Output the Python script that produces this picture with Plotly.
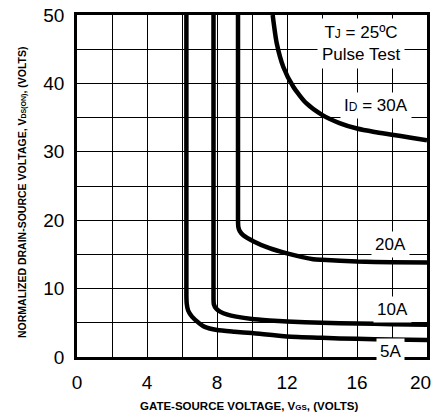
import plotly.graph_objects as go

# ---- data ----
x_5a = [6.25, 6.25, 6.27, 6.35, 6.57, 7.0, 7.3, 8.0, 9.0, 10.0, 12.0, 14.0, 16.0, 18.0, 20.0]
y_5a = [50.0, 9.0, 7.8, 6.8, 5.9, 4.9, 4.4, 3.95, 3.7, 3.5, 3.0, 2.8, 2.65, 2.55, 2.5]

x_10a = [7.8, 7.8, 7.82, 7.95, 8.2, 8.6, 9.1, 10.0, 11.0, 12.0, 14.0, 16.0, 18.0, 20.0]
y_10a = [50.0, 8.6, 7.7, 7.1, 6.6, 6.2, 5.9, 5.55, 5.35, 5.2, 5.0, 4.9, 4.8, 4.7]

x_20a = [9.2, 9.2, 9.22, 9.3, 9.5, 10.1, 11.0, 12.0, 13.5, 14.0, 16.0, 18.0, 20.0]
y_20a = [50.0, 20.0, 19.0, 18.4, 17.8, 16.9, 15.9, 15.15, 14.3, 14.2, 13.95, 13.85, 13.8]

x_30a = [11.18, 11.41, 11.79, 12.36, 13.1, 14.0, 15.0, 16.0, 17.0, 18.0, 19.0, 20.0]
y_30a = [50.0, 45.9, 42.4, 39.5, 37.1, 35.4, 34.2, 33.4, 32.9, 32.5, 32.1, 31.7]

x_grid = [0, 2, 4, 6, 8, 10, 12, 14, 16, 18, 20]
x_ticktext = ["0", "", "4", "", "8", "", "12", "", "16", "", ""]
x_last_label = "20"
y_grid = [0, 5, 10, 15, 20, 25, 30, 35, 40, 45, 50]
y_ticktext = ["0", "", "10", "", "20", "", "30", "", "40", "", "50"]

labels = ["5A", "10A", "20A", "I<span style='font-size:12px'>D</span> = 30A"]
label_x = [17.9, 18.0, 17.9, 17.1]
label_y = [0.8, 6.9, 16.4, 36.8]

FONT = "Liberation Sans, Arial, sans-serif"

fig = go.Figure()
for xs, ys in [(x_5a, y_5a), (x_10a, y_10a), (x_20a, y_20a), (x_30a, y_30a)]:
    fig.add_trace(go.Scatter(x=xs, y=ys, mode="lines",
                             line=dict(color="black", width=4.5, shape="spline", smoothing=0.6),
                             showlegend=False, hoverinfo="skip"))

for t, xv, yv in zip(labels, label_x, label_y):
    fig.add_annotation(x=xv, y=yv, text=t, showarrow=False, bgcolor="white",
                       font=dict(family=FONT, size=17, color="black"), borderpad=3)

fig.add_annotation(x=16.2, y=45.9,
                   text="T<span style='font-size:12px'>J</span> = 25ºC<br>Pulse Test",
                   showarrow=False, bgcolor="white", borderpad=4,
                   font=dict(family=FONT, size=17, color="black"))

# last x tick label, kept inside the page edge
fig.add_annotation(xref="paper", yref="paper", x=1, y=0, xshift=5.5, yshift=-25,
                   text=x_last_label, showarrow=False, xanchor="right", yanchor="middle",
                   font=dict(family=FONT, size=19, color="black"))

# axis titles
fig.add_annotation(xref="paper", yref="paper", x=0.5, y=0, yshift=-49,
                   text="<b>GATE-SOURCE VOLTAGE, V<span style='font-size:8px'>GS</span>, (VOLTS)</b>",
                   showarrow=False, font=dict(family=FONT, size=11.5, color="black"),
                   xanchor="center", yanchor="middle", xshift=-3)
fig.add_annotation(xref="paper", yref="paper", x=0, y=0.5, xshift=-55, yshift=-7,
                   text="<b>NORMALIZED DRAIN-SOURCE VOLTAGE, V<span style='font-size:7px'>DS(ON)</span>, (VOLTS)</b>",
                   showarrow=False, textangle=-90, font=dict(family=FONT, size=10.5, color="black"),
                   xanchor="center", yanchor="middle")

fig.update_xaxes(range=[0, 20], tickvals=x_grid, ticktext=x_ticktext,
                 showgrid=True, gridcolor="black", gridwidth=1.3,
                 showline=True, linecolor="black", linewidth=2.5, mirror=True,
                 zeroline=False, ticks="", ticklabelstandoff=6, ticklabeloverflow="allow",
                 tickfont=dict(family=FONT, size=19, color="black"))
fig.update_yaxes(range=[0, 50], tickvals=y_grid, ticktext=y_ticktext,
                 showgrid=True, gridcolor="black", gridwidth=1.3,
                 showline=True, linecolor="black", linewidth=2.5, mirror=True,
                 zeroline=False, ticks="", ticklabelstandoff=6, ticklabeloverflow="allow",
                 tickfont=dict(family=FONT, size=19, color="black"))

fig.update_layout(width=433, height=420, margin=dict(l=77, r=6, t=15, b=63, autoexpand=False),
                  paper_bgcolor="white", plot_bgcolor="white", showlegend=False)

fig.write_html("out.html")
